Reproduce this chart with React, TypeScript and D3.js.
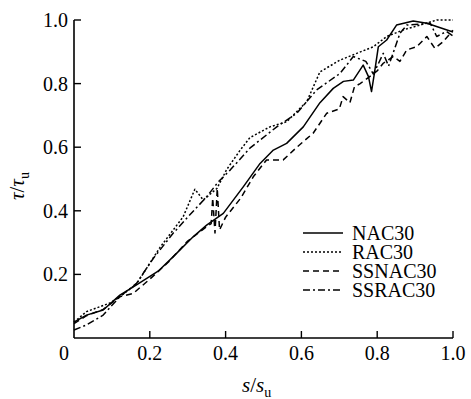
import React from "react";
import * as d3 from "d3";

const xTicks = [0.2, 0.4, 0.6, 0.8, 1.0];
const yTicks = [0.2, 0.4, 0.6, 0.8, 1.0];

const nacX = [0, 0.033, 0.077, 0.121, 0.165, 0.222, 0.262, 0.315, 0.35, 0.394, 0.447, 0.491, 0.526, 0.561, 0.605, 0.649, 0.684, 0.711, 0.737, 0.763, 0.777, 0.785, 0.794, 0.803, 0.825, 0.851, 0.895, 0.931, 1.0];
const nacY = [0.05, 0.072, 0.088, 0.135, 0.167, 0.21, 0.256, 0.319, 0.355, 0.392, 0.476, 0.549, 0.591, 0.612, 0.664, 0.74, 0.785, 0.807, 0.811, 0.858, 0.822, 0.775, 0.843, 0.916, 0.937, 0.984, 0.997, 0.99, 0.962];

const racX = [0, 0.033, 0.095, 0.121, 0.165, 0.2, 0.227, 0.288, 0.319, 0.341, 0.377, 0.403, 0.438, 0.464, 0.517, 0.561, 0.614, 0.649, 0.702, 0.746, 0.79, 0.825, 0.869, 0.913, 0.957, 1.0];
const racY = [0.05, 0.083, 0.11, 0.13, 0.17, 0.235, 0.285, 0.381, 0.468, 0.434, 0.47, 0.53, 0.59, 0.63, 0.664, 0.68, 0.743, 0.837, 0.874, 0.895, 0.916, 0.948, 0.969, 0.984, 1.0, 1.0];

const ssnacX = [0, 0.033, 0.077, 0.121, 0.156, 0.2, 0.25, 0.3, 0.35, 0.362, 0.366, 0.372, 0.378, 0.384, 0.4, 0.44, 0.473, 0.508, 0.552, 0.588, 0.631, 0.667, 0.7, 0.71, 0.728, 0.74, 0.755, 0.78, 0.8, 0.816, 0.842, 0.86, 0.878, 0.904, 0.931, 0.952, 0.974, 1.0];
const ssnacY = [0.045, 0.07, 0.09, 0.13, 0.14, 0.185, 0.24, 0.305, 0.35, 0.36, 0.44, 0.33, 0.47, 0.34, 0.38, 0.44, 0.507, 0.56, 0.56, 0.6, 0.644, 0.707, 0.72, 0.759, 0.74, 0.79, 0.8, 0.822, 0.84, 0.864, 0.885, 0.87, 0.906, 0.916, 0.948, 0.911, 0.932, 0.968];

const ssracX = [0, 0.033, 0.077, 0.121, 0.165, 0.209, 0.262, 0.3, 0.35, 0.38, 0.412, 0.464, 0.535, 0.588, 0.64, 0.702, 0.737, 0.77, 0.79, 0.816, 0.83, 0.86, 0.878, 0.94, 0.957, 0.983, 1.0];
const ssracY = [0.025, 0.041, 0.072, 0.13, 0.172, 0.25, 0.33, 0.38, 0.444, 0.49, 0.528, 0.597, 0.664, 0.707, 0.78, 0.832, 0.885, 0.87, 0.83, 0.895, 0.855, 0.958, 0.984, 0.99, 0.948, 0.964, 0.95];

const seriesNames = ["NAC30", "RAC30", "SSNAC30", "SSRAC30"];
const dashes = ["", "2,2", "6,4", "7,3,2,3"];

const W = 471, H = 399;
const x = d3.scaleLinear().domain([0, 1]).range([74, 453]);
const y = d3.scaleLinear().domain([0, 1]).range([338, 20]);
const FONT = "'Liberation Serif','Times New Roman',serif";

export default function App() {
  const series = [
    { xs: nacX, ys: nacY },
    { xs: racX, ys: racY },
    { xs: ssnacX, ys: ssnacY },
    { xs: ssracX, ys: ssracY },
  ];
  const line = d3.line<[number, number]>().x(d => x(d[0])).y(d => y(d[1]));
  return (
    <svg width={W} height={H} style={{ position: "absolute", left: 0, top: 0, background: "#fff" }} fontFamily={FONT}>
      <rect width={W} height={H} fill="#fff" />
      {/* axes */}
      <line x1={x(0)} x2={x(1)} y1={y(0)} y2={y(0)} stroke="#000" strokeWidth={1.6} />
      <line x1={x(0)} x2={x(0)} y1={y(0)} y2={y(1)} stroke="#000" strokeWidth={1.6} />
      {yTicks.map(t => (
        <g key={"y" + t}>
          <line x1={x(0)} x2={x(0) + 7} y1={y(t)} y2={y(t)} stroke="#000" strokeWidth={1.4} />
          <text x={68} y={y(t) + 7} fontSize={20} textAnchor="end">{t.toFixed(1)}</text>
        </g>
      ))}
      {xTicks.map(t => (
        <g key={"x" + t}>
          <line x1={x(t)} x2={x(t)} y1={y(0)} y2={y(0) - 7} stroke="#000" strokeWidth={1.4} />
          <text x={x(t)} y={360} fontSize={20} textAnchor="middle">{t.toFixed(1)}</text>
        </g>
      ))}
      <text x={64} y={360} fontSize={20} textAnchor="middle">0</text>
      {/* axis titles */}
      <text x={242} y={392} fontSize={21}>
        <tspan fontStyle="italic">s</tspan>
        <tspan>/</tspan>
        <tspan fontStyle="italic">s</tspan>
        <tspan fontSize={14} dy={5}>u</tspan>
      </text>
      <text transform="translate(24,200) rotate(-90)" fontSize={21}>
        <tspan fontStyle="italic">τ</tspan>
        <tspan>/</tspan>
        <tspan fontStyle="italic">τ</tspan>
        <tspan fontSize={14} dy={5}>u</tspan>
      </text>
      {/* curves */}
      {series.map((s, i) => (
        <path key={i} d={line(s.xs.map((v, j) => [v, s.ys[j]] as [number, number])) || ""}
          fill="none" stroke="#000" strokeWidth={1.5} strokeDasharray={dashes[i]} strokeLinejoin="round" />
      ))}
      {/* legend */}
      {seriesNames.map((n, i) => (
        <g key={n}>
          <line x1={303} x2={343} y1={233 + i * 19} y2={233 + i * 19} stroke="#000" strokeWidth={1.5} strokeDasharray={dashes[i]} />
          <text x={352} y={240 + i * 19} fontSize={20}>{n}</text>
        </g>
      ))}
    </svg>
  );
}
